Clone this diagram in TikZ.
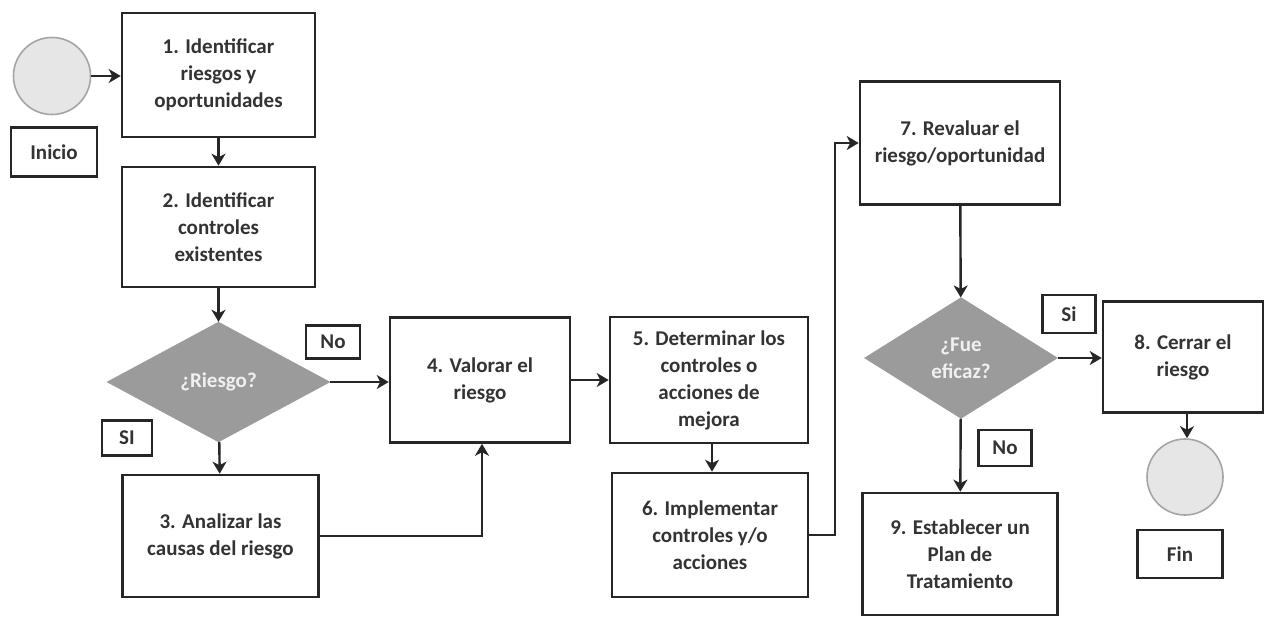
\documentclass[tikz,border=0pt]{standalone}
\usepackage{fontspec}
\setmainfont{Carlito}
\usetikzlibrary{arrows.meta,shapes.geometric}
\definecolor{txt}{HTML}{333333}
\definecolor{dfill}{HTML}{9B9B9B}
\definecolor{cfill}{HTML}{E6E6E6}
\definecolor{cline}{HTML}{A5A5A5}
\tikzset{
  stepbox/.style={draw=black!85, line width=2.6pt, fill=white, text=txt, align=center,
    font=\fontsize{21}{27}\selectfont\bfseries, inner sep=2pt},
  lblbox/.style={draw=black!85, line width=2.6pt, fill=white, text=txt, align=center,
    font=\fontsize{21}{27}\selectfont\bfseries, inner sep=0pt},
  decis/.style={diamond, fill=dfill, draw=dfill, text=white!94!black, align=center,
    font=\fontsize{21}{27}\selectfont\bfseries, inner sep=0pt},
  termc/.style={circle, fill=cfill, draw=cline, line width=1.6pt, inner sep=0pt},
  arr/.style={draw=black!85, line width=2.4pt, -{Stealth[length=12pt,width=14pt,inset=3.5pt]}},
}
\begin{document}
\begin{tikzpicture}[x=1pt,y=-1pt]
\useasboundingbox (0,0) rectangle (1265,617);
\fill[white] (0,0) rectangle (1265,617);
% terminals
\node[termc, minimum size=77pt] (start) at (52,76) {};
\node[lblbox, minimum width=86pt, minimum height=49pt] (inicio) at (54,152) {Inicio};
\node[termc, minimum size=76pt] (end) at (1185,477) {};
\node[lblbox, minimum width=85pt, minimum height=48pt] (fin) at (1180,554) {Fin};
% steps
\node[stepbox, minimum width=193pt, minimum height=124pt] (b1) at (218.5,75) {1. Identificar\\riesgos y\\oportunidades};
\node[stepbox, minimum width=193pt, minimum height=120pt] (b2) at (218.5,227) {2. Identificar\\controles\\existentes};
\node[decis, minimum width=223pt, minimum height=120pt] (d1) at (218.5,382) {¿Riesgo?};
\node[lblbox, minimum width=50pt, minimum height=35pt] (si1) at (127,438) {SI};
\node[lblbox, minimum width=54pt, minimum height=33pt] (no1) at (333,342) {No};
\node[stepbox, minimum width=196pt, minimum height=122pt] (b3) at (220.5,536) {3. Analizar las\\causas del riesgo};
\node[stepbox, minimum width=180pt, minimum height=125pt] (b4) at (480,380) {4. Valorar el\\riesgo};
\node[stepbox, minimum width=198pt, minimum height=126pt] (b5) at (709,380) {5. Determinar los\\controles o\\acciones de\\mejora};
\node[stepbox, minimum width=196pt, minimum height=124pt] (b6) at (710,535) {6. Implementar\\controles y/o\\acciones};
\node[stepbox, minimum width=200pt, minimum height=123pt] (b7) at (960,143) {7. Revaluar el\\riesgo/oportunidad};
\node[decis, minimum width=193pt, minimum height=121pt] (d2) at (961,358) {¿Fue\\eficaz?};
\node[lblbox, minimum width=53pt, minimum height=38pt] (si2) at (1069,314) {Si};
\node[lblbox, minimum width=53pt, minimum height=36pt] (no2) at (1005,448) {No};
\node[stepbox, minimum width=160pt, minimum height=111pt] (b8) at (1183,357) {8. Cerrar el\\riesgo};
\node[stepbox, minimum width=195pt, minimum height=122pt] (b9) at (960,554) {9. Establecer un\\Plan de\\Tratamiento};
\coordinate (k) at (835,0);
% connectors
\draw[arr] (start) -- (b1.west |- start);
\draw[arr] (b1) -- (b2);
\draw[arr] (b2) -- (d1);
\draw[arr] (d1.east) -- (b4.west |- d1.east);
\draw[arr] (d1) -- (b3);
\draw[arr] (b3.east) -| ([xshift=2pt]b4.south);
\draw[arr] (b4) -- (b5);
\draw[arr] ([xshift=3pt]b5.south) -- ([xshift=2pt]b6.north);
\draw[arr] (b6.east) -| (k |- b7.west) -- (b7.west);
\draw[arr] (b7) -- (d2);
\draw[arr] (d2.east) -- (b8.west |- d2.east);
\draw[arr] (d2) -- (b9);
\draw[arr] ([xshift=4pt]b8.south) -- ([xshift=2pt]end.north);
\end{tikzpicture}
\end{document}
